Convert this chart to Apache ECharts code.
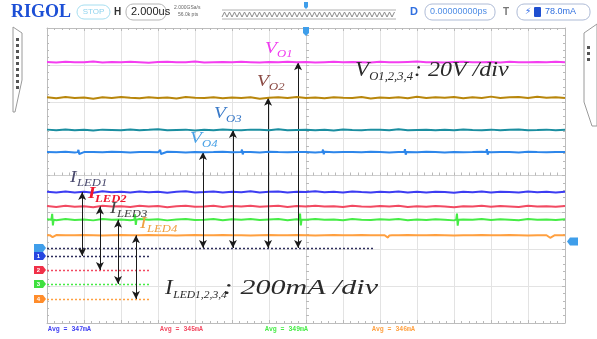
<!DOCTYPE html>
<html>
<head>
<meta charset="utf-8">
<script src="https://cdn.jsdelivr.net/npm/echarts@6/dist/echarts.min.js"></script>
<style>
html,body{margin:0;padding:0;background:#fff;}
#scope{width:597px;height:339px;}
</style>
</head>
<body>
<div id="scope"></div>
<script>
// ---- sample times (µs), 2 µs/div, 14 divisions ----
const timeUs = [
  -14,-13.5,-13,-12.5,-12,-11.5,-11,-10.5,-10,-9.5,
  -9,-8.5,-8,-7.5,-7,-6.5,-6,-5.5,-5,-4.5,
  -4,-3.5,-3,-2.5,-2,-1.5,-1,-0.5,0,0.5,
  1,1.5,2,2.5,3,3.5,4,4.5,5,5.5,
  6,6.5,7,7.5,8,8.5,9,9.5,10,10.5,
  11,11.5,12,12.5,13,13.5,14
];

// ---- output voltages (V) ----
const vo1 = [
  100.9,100.6,101.0,100.7,100.8,101.1,100.6,100.9,100.7,101.0,
  100.8,100.5,100.9,101.0,100.7,100.8,101.1,100.6,100.8,100.9,
  100.7,101.0,100.8,100.6,100.9,100.8,101.0,100.7,100.9,100.6,
  100.8,101.0,100.7,100.9,100.8,100.6,101.0,100.8,100.7,100.9,
  101.1,100.7,100.8,100.6,100.9,101.0,100.7,100.8,100.9,100.6,
  101.0,100.8,100.7,100.9,100.8,101.0,100.7
];
const vo2 = [
  81.8,81.2,81.9,81.4,81.6,81.0,81.7,81.3,81.9,81.5,
  81.2,81.8,81.4,81.6,81.1,81.9,81.5,81.3,81.7,81.2,
  81.6,81.4,81.8,81.0,81.5,81.7,81.3,81.9,81.4,81.6,
  81.2,81.8,81.5,81.3,81.9,81.1,81.6,81.4,81.8,81.2,
  82.0,81.3,81.7,81.5,81.9,81.2,81.8,81.4,82.1,81.3,
  81.7,81.9,81.4,82.0,81.5,81.8,81.3
];
const vo3 = [
  64.2,63.8,64.3,63.9,64.1,63.7,64.2,64.0,63.8,64.3,
  63.9,64.1,64.4,63.8,64.0,64.2,63.7,64.1,63.9,64.3,
  64.0,63.8,64.2,64.1,63.9,64.4,63.8,64.0,64.2,63.9,
  64.1,63.7,64.3,64.0,63.8,64.2,64.1,63.9,64.4,63.8,
  64.0,64.2,63.9,64.1,63.8,64.3,64.0,63.9,64.2,63.8,
  64.1,64.3,63.9,64.0,64.2,63.8,64.1
];
const vo4 = [
  52.1,51.9,52.2,51.8,52.0,52.1,51.9,52.2,52.0,51.8,
  52.1,52.0,51.9,52.2,52.0,51.8,52.1,51.9,52.0,52.2,
  51.9,52.1,52.0,51.8,52.2,52.0,51.9,52.1,52.0,51.8,
  52.2,51.9,52.0,52.1,51.9,52.2,52.0,51.8,52.1,52.0,
  51.9,52.2,52.0,51.8,52.1,51.9,52.0,52.2,51.9,52.1,
  52.0,51.8,52.2,52.0,51.9,52.1,52.0
];
// switching spikes on VO4 [t, V]
const vo4Spikes = [
  [-12.34,52.0],[-12.30,53.2],[-12.26,51.0],[-12.22,52.0],
  [-7.92,52.0],[-7.88,53.2],[-7.84,51.0],[-7.80,52.0],
  [-3.50,52.0],[-3.46,53.4],[-3.42,50.8],[-3.38,52.0],
  [0.88,52.0],[0.92,53.4],[0.96,50.8],[1.00,52.0],
  [5.31,52.0],[5.35,53.6],[5.39,50.6],[5.43,52.0],
  [9.74,52.0],[9.78,53.6],[9.82,50.6],[9.86,52.0]
];

// ---- LED currents (mA) ----
const iled1 = [
  349,344,350,345,348,343,351,346,348,344,
  350,346,349,343,348,351,345,347,350,344,
  349,346,351,345,348,350,344,349,347,351,
  346,348,344,350,347,345,349,346,350,344,
  348,345,349,347,343,348,346,350,345,349,
  347,344,350,346,348,345,349
];
const iled2 = [
  347,342,348,343,346,341,349,344,346,342,
  348,344,347,341,346,349,343,345,348,342,
  347,344,349,343,346,348,342,347,345,349,
  344,346,342,348,345,343,347,344,348,342,
  346,343,347,345,341,346,344,348,343,347,
  345,342,348,344,346,343,347
];
const iled3 = [
  351,346,352,347,350,345,353,348,350,346,
  352,348,351,345,350,353,347,349,352,346,
  351,348,353,347,350,352,346,351,349,353,
  348,350,346,352,349,347,351,348,352,346,
  350,347,351,349,345,350,348,352,347,351,
  349,346,352,348,350,347,351
];
const iled3Spikes = [
  [-13.76,349],[-13.72,380],[-13.68,318],[-13.64,349],
  [-9.28,349],[-9.24,378],[-9.20,320],[-9.16,349],
  [-0.36,349],[-0.32,382],[-0.28,318],[-0.24,349],
  [8.12,349],[8.16,382],[8.20,316],[8.24,349]
];
const iled4 = [
  346,347,346,346,347,346,345,346,347,346,
  346,347,346,346,345,346,347,346,346,347,
  346,346,345,346,347,346,346,347,346,345,
  346,347,346,346,347,346,346,345,346,347,
  346,346,347,346,345,346,346,347,346,346,
  347,346,345,346,346,347,346
];
const iled4Dips = [
  [-13.85,346],[-13.7,336],[-13.5,346],
  [4.25,346],[4.43,333],[4.65,346],
  [13.0,346],[13.2,332],[13.45,346]
];

// mean levels
const avgV = [100.8, 81.5, 64.0, 52.0];
const avgI = [347, 345, 349, 346];
const trigLevel = 78.0;

// channel scaling and ground positions (divisions from screen centre)
const V_PER_DIV = 20, MA_PER_DIV = 200;
const groundV = -1.966;
const groundI = [-2.183, -2.563, -2.942, -3.349];

const colV = ['#f43ef0', '#b8860b', '#1b8ea0', '#2d86ea'];
const colI = ['#3d3df2', '#f24a62', '#46ec46', '#ffa040'];
const colRef = ['#2e2e5c', '#f24a62', '#46ec46', '#ffa040'];

// arrow positions (µs)
const arrowV = [-0.43, -2.05, -3.95, -5.57];
const arrowI = [-12.1, -11.14, -10.16, -9.19];
const refEndI = -8.43, refEndV = 3.73;

function pairs(vals, extra) {
  const pts = timeUs.map((t, i) => [t, vals[i]]);
  return (extra ? pts.concat(extra) : pts).sort((a, b) => a[0] - b[0]);
}

const chart = echarts.init(document.getElementById('scope'));

const grid = { left: 47, top: 28, width: 518, height: 295 };
const tickCol = '#b9b9b9';

function borderAxis(extra) {
  return Object.assign({
    type: 'value', axisLabel: { show: false },
    axisLine: { show: true, onZero: false, lineStyle: { color: '#bdbdbd', width: 1 } },
    axisTick: { show: true, inside: true, length: 3, lineStyle: { color: tickCol } },
    minorTick: { show: true, splitNumber: 5, length: 2, lineStyle: { color: tickCol } },
    splitLine: { show: false }
  }, extra);
}

const xAxis = [
  {
    type: 'value', min: -14, max: 14, interval: 2,
    axisLabel: { show: false },
    axisLine: { show: true, onZero: true, onZeroAxisIndex: 0, lineStyle: { color: '#cfcfcf' } },
    axisTick: { show: true, inside: true, length: 3, lineStyle: { color: tickCol } },
    minorTick: { show: true, splitNumber: 5, length: 3, lineStyle: { color: tickCol } },
    splitLine: { show: true, lineStyle: { color: '#e3e3e3', width: 1 } }
  },
  borderAxis({ min: -14, max: 14, interval: 2, position: 'top' }),
  borderAxis({ min: -14, max: 14, interval: 2, position: 'bottom' })
];

function hiddenY(min, max) {
  return { type: 'value', show: false, min: min, max: max, axisLine: { onZero: false }, splitLine: { show: false } };
}

const yAxis = [
  {
    type: 'value', min: -4, max: 4, interval: 1,
    axisLabel: { show: false },
    axisLine: { show: true, onZero: true, onZeroAxisIndex: 0, lineStyle: { color: '#cfcfcf' } },
    axisTick: { show: true, inside: true, length: 3, lineStyle: { color: tickCol } },
    minorTick: { show: true, splitNumber: 5, length: 3, lineStyle: { color: tickCol } },
    splitLine: { show: true, lineStyle: { color: '#e3e3e3', width: 1 } }
  },
  borderAxis({ min: -4, max: 4, interval: 1, position: 'left' }),
  borderAxis({ min: -4, max: 4, interval: 1, position: 'right' }),
  hiddenY((-4 - groundV) * V_PER_DIV, (4 - groundV) * V_PER_DIV)
];
groundI.forEach(g => yAxis.push(hiddenY((-4 - g) * MA_PER_DIV, (4 - g) * MA_PER_DIV)));

const arrowStyle = { color: '#1a1a1a', width: 1, type: 'solid' };

function refLine(tEnd, color) {
  return [
    { coord: [-14, 0], symbol: 'none', lineStyle: { color: color, width: 1.3, type: [2, 2] } },
    { coord: [tEnd, 0], symbol: 'none' }
  ];
}
function arrowLine(t, v) {
  return [
    { coord: [t, 0], lineStyle: arrowStyle },
    { coord: [t, v] }
  ];
}

const series = [];
const vData = [pairs(vo1), pairs(vo2), pairs(vo3), pairs(vo4, vo4Spikes)];
vData.forEach((d, k) => {
  const ml = [arrowLine(arrowV[k], avgV[k])];
  if (k === 0) ml.unshift(refLine(refEndV, '#2e2e5c'));
  series.push({
    type: 'line', xAxisIndex: 0, yAxisIndex: 3, data: d,
    symbol: 'none', animation: false, z: 5,
    lineStyle: { color: colV[k], width: 2 },
    markLine: {
      silent: true, animation: false, symbol: ['arrow', 'arrow'], symbolSize: [6, 8],
      label: { show: false }, emphasis: { disabled: true }, data: ml
    }
  });
});
const iData = [pairs(iled1), pairs(iled2), pairs(iled3, iled3Spikes), pairs(iled4, iled4Dips)];
iData.forEach((d, k) => {
  series.push({
    type: 'line', xAxisIndex: 0, yAxisIndex: 4 + k, data: d,
    symbol: 'none', animation: false, z: 4,
    lineStyle: { color: colI[k], width: 2 },
    markLine: {
      silent: true, animation: false, symbol: ['arrow', 'arrow'], symbolSize: [6, 8],
      label: { show: false }, emphasis: { disabled: true },
      data: [refLine(refEndI, colRef[k]), arrowLine(arrowI[k], avgI[k])]
    }
  });
});

chart.setOption({
  animation: false,
  grid: grid,
  xAxis: xAxis,
  yAxis: yAxis,
  series: series
});

// ---- screen furniture ----
const SERIF = '"Liberation Serif","DejaVu Serif",serif';
const SANS = '"Liberation Sans","DejaVu Sans",sans-serif';
const MONO = '"Liberation Mono","DejaVu Sans Mono",monospace';
const g = [];
// text element placed at (x, y); optional horizontal stretch and alignment
function txt(x, y, s, font, fill, sx, align) {
  const a = align || 'left';
  g.push({
    type: 'text', z: 200, silent: true, x: x, y: y, scaleX: sx || 1,
    style: { x: 0, y: 0, text: s, font: font, fill: fill, align: a, verticalAlign: 'middle',
             textAlign: a, textVerticalAlign: 'middle' }
  });
}
function box(x, y, w, h, r, stroke, fill) {
  g.push({ type: 'rect', z: 190, silent: true, shape: { x: x, y: y, width: w, height: h, r: r },
           style: { fill: fill || '#fff', stroke: stroke, lineWidth: 1 } });
}

// header
txt(11, 12, 'RIGOL', 'bold 18px ' + SERIF, '#1c4fd6');
box(77, 5, 33, 14, 7, '#a6def0');
txt(93.5, 12, 'STOP', '8px ' + SANS, '#8fd3ee', 1, 'center');
txt(114, 12, 'H', 'bold 10px ' + SANS, '#333');
box(126, 4, 40, 16, 7, '#b5b5b5');
txt(131, 12, '2.000us', '11px ' + SANS, '#222');
txt(174, 8, '2.000GSa/s', '5px ' + SANS, '#666');
txt(178, 15, '56.0k pts', '5px ' + SANS, '#666');
// memory overview strip
const zig = [];
for (let x = 222; x <= 396; x += 2.5) zig.push([x, (Math.round((x - 222) / 2.5) % 2) ? 12 : 17]);
g.push({ type: 'polyline', z: 190, silent: true, shape: { points: zig }, style: { stroke: '#8a8a8a', lineWidth: 1, fill: null } });
g.push({ type: 'polyline', z: 190, silent: true, shape: { points: [[222, 10], [396, 10]] }, style: { stroke: '#b0b0b0', lineWidth: 1 } });
g.push({ type: 'polyline', z: 190, silent: true, shape: { points: [[222, 19], [396, 19]] }, style: { stroke: '#b0b0b0', lineWidth: 1 } });
txt(410, 12, 'D', 'bold 11px ' + SANS, '#2f6fe0');
box(425, 4, 70, 16, 7, '#aebbd6');
txt(430, 12, '0.00000000ps', '9px ' + SANS, '#4f8de6');
txt(503, 12, 'T', 'bold 10px ' + SANS, '#777');
box(517, 4, 73, 16, 7, '#aebbd6');
txt(525, 12, '\u26A1', 'bold 9px ' + SANS, '#1f5ee6');
g.push({ type: 'rect', z: 195, silent: true, shape: { x: 534, y: 7, width: 7, height: 10, r: 1 }, style: { fill: '#1f4fd0' } });
txt(545, 12, '78.0mA', '9px ' + SANS, '#2f6fe0');

// side panels
g.push({ type: 'polygon', z: 190, silent: true, shape: { points: [[13, 27], [22, 33], [22, 80], [15, 112], [13, 112]] },
         style: { fill: '#fff', stroke: '#9a9a9a', lineWidth: 1 } });
for (let y = 38; y <= 86; y += 6) g.push({ type: 'rect', z: 195, silent: true, shape: { x: 16, y: y, width: 3, height: 3 }, style: { fill: '#555' } });
g.push({ type: 'polygon', z: 190, silent: true, shape: { points: [[597, 24], [584, 33], [584, 102], [592, 126], [597, 126]] },
         style: { fill: '#fff', stroke: '#9a9a9a', lineWidth: 1 } });
for (let y = 46; y <= 62; y += 6) g.push({ type: 'rect', z: 195, silent: true, shape: { x: 587, y: y, width: 3, height: 3 }, style: { fill: '#555' } });

// average readouts
const avgX = [48, 160, 265, 372];
avgI.forEach((v, k) => txt(avgX[k], 329, 'Avg = ' + v + 'mA', 'bold 6.5px ' + MONO, colI[k]));

// channel ground tags on the left, trigger markers
function leftTag(y, fill, label) {
  g.push({ type: 'polygon', z: 196, silent: true, shape: { points: [[34, y - 4], [43, y - 4], [46, y], [43, y + 4], [34, y + 4]] },
           style: { fill: fill } });
  txt(38.5, y + 0.5, label, 'bold 6px ' + SANS, '#fff', 1, 'center');
}
const yGV = chart.convertToPixel({ yAxisIndex: 3 }, 0);
leftTag(yGV, '#3f9eea', '');
const tagCols = ['#2646e0', '#f03048', '#3ee03e', '#ff8c2a'];
groundI.forEach((gd, k) => leftTag(chart.convertToPixel({ yAxisIndex: 4 + k }, 0), tagCols[k], String(k + 1)));
const yTrig = chart.convertToPixel({ yAxisIndex: 4 }, trigLevel);
g.push({ type: 'polygon', z: 196, silent: true, shape: { points: [[567, yTrig], [570, yTrig - 4], [578, yTrig - 4], [578, yTrig + 4], [570, yTrig + 4]] }, style: { fill: '#3f9eea' } });
const xT0 = chart.convertToPixel({ xAxisIndex: 0 }, 0);
g.push({ type: 'polygon', z: 196, silent: true, shape: { points: [[xT0 - 3, 27], [xT0 + 3, 27], [xT0 + 3, 33], [xT0, 36], [xT0 - 3, 33]] }, style: { fill: '#3f9eea' } });
g.push({ type: 'polygon', z: 196, silent: true, shape: { points: [[xT0 - 2, 2], [xT0 + 2, 2], [xT0 + 2, 7], [xT0, 9], [xT0 - 2, 7]] }, style: { fill: '#3f9eea' } });

// annotations: symbol + subscript (+ optional scale text at tailX)
const SX = 1.15;
function sym(x, y, main, sub, col, size, subSize, bold, tail, tailX, tailSx) {
  const w = bold ? 'bold ' : '';
  txt(x, y, main, 'italic ' + w + size + 'px ' + SERIF, col, SX);
  const mw = (main === 'V' ? size * 0.62 : size * 0.36) * SX;
  txt(x + mw, y + size * 0.3, sub, 'italic ' + w + subSize + 'px ' + SERIF, col, tail ? 1.05 : SX);
  if (tail) txt(tailX, y, tail, 'italic ' + size + 'px ' + SERIF, col, tailSx);
}
sym(265, 49, 'V', 'O1', '#f03cf0', 17, 11);
sym(257, 82, 'V', 'O2', '#8b4a44', 17, 11);
sym(214, 114, 'V', 'O3', '#3a7ac8', 17, 11);
sym(190, 139, 'V', 'O4', '#4aa2e6', 17, 11);
sym(355, 71, 'V', 'O1,2,3,4', '#2a2a2a', 20, 12, false, ': 20V /div', 414, 1.2);
sym(70, 178, 'I', 'LED1', '#4a4a6e', 17, 11);
sym(88, 194, 'I', 'LED2', '#f01830', 17, 11, true);
sym(110, 209, 'I', 'LED3', '#444444', 17, 11);
sym(140, 224, 'I', 'LED4', '#f0a040', 17, 11);
sym(165, 289, 'I', 'LED1,2,3,4', '#2a2a2a', 20, 11, false, ': 200mA /div', 223, 1.5);

chart.setOption({ graphic: g });
</script>
</body>
</html>
